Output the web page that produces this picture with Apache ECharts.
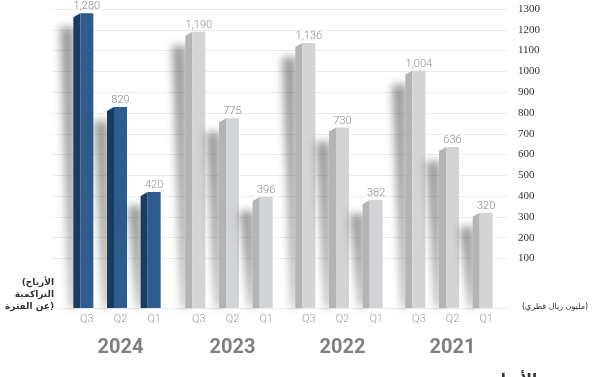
<!DOCTYPE html>
<html>
<head>
<meta charset="utf-8">
<script src="https://cdn.jsdelivr.net/npm/echarts@6/dist/echarts.min.js"></script>
<style>
  html, body { margin: 0; padding: 0; background: #fff; }
  #main { width: 600px; height: 377px; }
</style>
</head>
<body>
<div id="main"></div>
<script>
// data
const years = ['2024', '2023', '2022', '2021'];
const quarters = ['Q3', 'Q2', 'Q1'];
const profits2024 = [1280, 829, 420];
const profits2023 = [1190, 775, 396];
const profits2022 = [1136, 730, 382];
const profits2021 = [1004, 636, 320];
const yTicks = [100, 200, 300, 400, 500, 600, 700, 800, 900, 1000, 1100, 1200, 1300];

const yMin = -138;
const yMax = 1300;
const gridTop = 9;
const gridBottom = 69;

// left/right edge of every year block
const blocks = [
  { left: 70, right: 600 - 171 },
  { left: 182, right: 600 - 283 },
  { left: 292, right: 600 - 393 },
  { left: 402, right: 600 - 503 }
];
const allProfits = [profits2024, profits2023, profits2022, profits2021];
const barColors = [
  { front: '#2f5b8d', side: '#173d62', label: '#8a8a8a' },
  { front: '#d3d4d6', side: '#b3b4b6', label: '#8a8a8a' },
  { front: '#d3d4d6', side: '#b3b4b6', label: '#8a8a8a' },
  { front: '#d3d4d6', side: '#b3b4b6', label: '#8a8a8a' }
];

function makeRender(c) {
  return function (params, api) {
    const idx = api.value(0);
    const val = api.value(1);
    const top = api.coord([idx, val]);
    const base = api.coord([idx, yMin]);
    const x = top[0], y = top[1], b = base[1];
    const fw = 13, sw = 7, slant = 4;
    const fl = x - fw / 2;
    const sl = fl - sw;
    return {
      type: 'group',
      children: [
        {
          // soft shadow, drawn off canvas so only the blur shows
          type: 'polygon',
          x: -2000,
          shape: { points: [[sl - 13, y + 14], [sl + 1, y + 14], [sl + 1, b], [sl - 3, b]] },
          style: { fill: '#000', shadowBlur: 9, shadowColor: 'rgba(70,70,70,0.55)', shadowOffsetX: 2000 }
        },
        {
          type: 'polygon',
          shape: { points: [[sl, y + slant], [fl, y], [fl, b], [sl, b]] },
          style: { fill: c.side }
        },
        {
          type: 'rect',
          shape: { x: fl, y: y, width: fw, height: b - y },
          style: { fill: c.front }
        },
        {
          type: 'text',
          style: {
            text: val.toLocaleString('en-US'),
            x: x, y: y - 1,
            align: 'center', verticalAlign: 'bottom',
            fill: c.label,
            font: '300 11px Roboto'
          }
        }
      ]
    };
  };
}

const grids = [{ left: 52, right: 93, top: gridTop, bottom: gridBottom }];
const xAxes = [{
  gridIndex: 0, type: 'value', min: 0, max: 1,
  axisLine: { show: true, onZero: false, lineStyle: { color: '#e8e8e8', width: 1 } },
  axisTick: { show: false }, axisLabel: { show: false }, splitLine: { show: false }
}];
const yAxes = [{
  gridIndex: 0, type: 'value', min: yMin, max: yMax, position: 'right',
  axisLine: { show: false },
  axisTick: { show: false, customValues: yTicks },
  axisLabel: {
    customValues: yTicks, margin: 11, color: '#333',
    fontFamily: 'Liberation Sans Narrow', fontSize: 11,
    formatter: function (v) { return String(v); }
  },
  splitLine: { show: true, lineStyle: { color: '#ececec', width: 1 } }
}];
const series = [];

years.forEach(function (yr, i) {
  const g = i + 1;
  grids.push({ left: blocks[i].left, right: blocks[i].right, top: gridTop, bottom: gridBottom });
  xAxes.push({
    gridIndex: g, type: 'category', data: quarters,
    name: yr, nameLocation: 'middle', nameGap: 30,
    nameTextStyle: { fontFamily: 'Roboto', fontWeight: 'bold', fontSize: 20, color: '#808080' },
    axisLine: { show: false, onZero: false }, axisTick: { show: false },
    axisLabel: { margin: 6, color: '#9a9a9a', fontFamily: 'Roboto', fontWeight: 300, fontSize: 11 }
  });
  yAxes.push({
    gridIndex: g, type: 'value', min: yMin, max: yMax, show: false,
    splitLine: { show: false }
  });
  series.push({
    type: 'custom',
    xAxisIndex: g, yAxisIndex: g,
    renderItem: makeRender(barColors[i]),
    data: allProfits[i].map(function (v, k) { return [k, v]; }),
    z: 3
  });
});

const myChart = echarts.init(document.getElementById('main'));
myChart.setOption({
  animation: false,
  backgroundColor: '#ffffff',
  grid: grids,
  xAxis: xAxes,
  yAxis: yAxes,
  series: series,
  graphic: [
    {
      type: 'text', x: 54, y: 277,
      style: {
        text: '\u200E(الأرباح\u200E\n\u200Eالتراكمية\u200E\n\u200Eعن الفترة)\u200E',
        align: 'right', lineHeight: 12,
        fill: '#333', font: 'bold 9px "DejaVu Sans"'
      }
    },
    {
      type: 'text', x: 522, y: 303,
      style: { text: '\u200E(مليون ريال قطري)\u200E', fill: '#333', font: '8px "DejaVu Sans"' }
    },
    {
      type: 'text', x: 490, y: 373,
      style: { text: 'نمو الأرباح', fill: '#333', font: 'bold 15px "DejaVu Sans"' }
    }
  ]
});
</script>
</body>
</html>
